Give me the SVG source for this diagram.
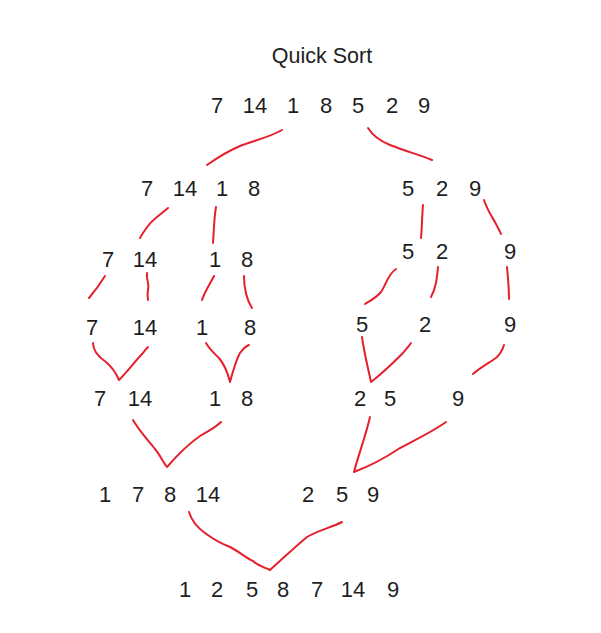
<svg xmlns="http://www.w3.org/2000/svg" width="601" height="633" viewBox="0 0 601 633">
<style>
text{font-family:"Liberation Sans",Arial,sans-serif;font-size:22px;fill:#1e1e1e;text-anchor:middle}
.t{font-size:21.5px}
.c path{fill:none;stroke:#e5202c;stroke-width:2;stroke-linecap:round;stroke-linejoin:round}
</style>
<rect width="601" height="633" fill="#ffffff"/>
<g id="title"><text class="t" x="322" y="63">Quick Sort</text></g>
<g id="n-root"><text y="113"><tspan x="217">7</tspan><tspan x="255">14</tspan><tspan x="293">1</tspan><tspan x="326">8</tspan><tspan x="358">5</tspan><tspan x="392">2</tspan><tspan x="424">9</tspan></text></g>
<g id="n-l1"><text y="196"><tspan x="147">7</tspan><tspan x="185">14</tspan><tspan x="222">1</tspan><tspan x="254">8</tspan></text></g>
<g id="n-r1"><text y="196"><tspan x="408">5</tspan><tspan x="442">2</tspan><tspan x="475">9</tspan></text></g>
<g id="n-l2a"><text y="267"><tspan x="108">7</tspan><tspan x="145">14</tspan></text></g>
<g id="n-l2b"><text y="267"><tspan x="215">1</tspan><tspan x="247">8</tspan></text></g>
<g id="n-r2a"><text y="259"><tspan x="408">5</tspan><tspan x="442">2</tspan></text></g>
<g id="n-r2b"><text y="259"><tspan x="510">9</tspan></text></g>
<g id="n-l3"><text y="335"><tspan x="92">7</tspan><tspan x="145">14</tspan><tspan x="202">1</tspan><tspan x="250">8</tspan></text></g>
<g id="n-r3"><text y="332"><tspan x="362">5</tspan><tspan x="425">2</tspan><tspan x="510">9</tspan></text></g>
<g id="n-l4"><text y="406"><tspan x="100">7</tspan><tspan x="140">14</tspan><tspan x="215">1</tspan><tspan x="247">8</tspan></text></g>
<g id="n-r4"><text y="406"><tspan x="360">2</tspan><tspan x="390">5</tspan><tspan x="458">9</tspan></text></g>
<g id="n-l5"><text y="502"><tspan x="105">1</tspan><tspan x="138">7</tspan><tspan x="170">8</tspan><tspan x="208">14</tspan></text></g>
<g id="n-r5"><text y="502"><tspan x="308">2</tspan><tspan x="342">5</tspan><tspan x="373">9</tspan></text></g>
<g id="n-result"><text y="597"><tspan x="185">1</tspan><tspan x="217">2</tspan><tspan x="252">5</tspan><tspan x="283">8</tspan><tspan x="317">7</tspan><tspan x="353">14</tspan><tspan x="393">9</tspan></text></g>
<g id="connectors" class="c">
<path d="M282 130 C268 138 252 141 240 146 C228 151 217 158 207 165"/>
<path d="M368 128 C373 136 380 141 390 145 C405 151 420 155 432 160"/>
<path d="M168 208 C160 215 152 220 148 226 C145 230 142 234 140 238"/>
<path d="M216 207 C214 218 214 230 213 243"/>
<path d="M105 276 C100 284 95 291 89 298"/>
<path d="M147 273 C146 280 150 284 148 290 C147 295 148 298 148 300"/>
<path d="M214 276 C210 284 205 291 202 300"/>
<path d="M244 276 C244 290 247 300 252 308"/>
<path d="M423 205 C422 216 422 228 421 238"/>
<path d="M484 200 C488 212 493 218 496 224 C498 228 500 231 501 234"/>
<path d="M396 269 C388 274 386 285 381 292 C376 298 370 301 365 304"/>
<path d="M438 267 C437 278 436 288 431 297"/>
<path d="M507 267 C508 278 509 288 509 299"/>
<path d="M93 343 C93 352 100 358 106 362 C112 367 116 373 119 380 C128 371 136 360 143 353 C145 350 147 348 148 347"/>
<path d="M206 343 C210 350 214 353 219 358 C224 364 228 374 230 382 C233 371 236 360 240 353 C243 349 246 346 249 345"/>
<path d="M133 420 C140 432 148 440 155 449 C160 455 163 462 167 467 C180 452 190 443 200 436 C208 431 215 428 221 422"/>
<path d="M362 337 C364 352 368 368 371 382 C384 372 395 361 403 353 C406 349 409 346 411 343"/>
<path d="M504 345 C502 352 498 357 493 360 C487 364 480 368 473 374"/>
<path d="M370 417 C366 435 359 453 354 472 C370 466 385 458 400 448 C415 440 432 432 446 422"/>
<path d="M189 512 C192 522 198 528 205 533 C213 539 222 544 230 547 C240 552 246 558 253 561 C258 566 264 567 270 570 C281 560 295 547 307 537 C319 530 330 528 342 522"/>
</g>
</svg>
